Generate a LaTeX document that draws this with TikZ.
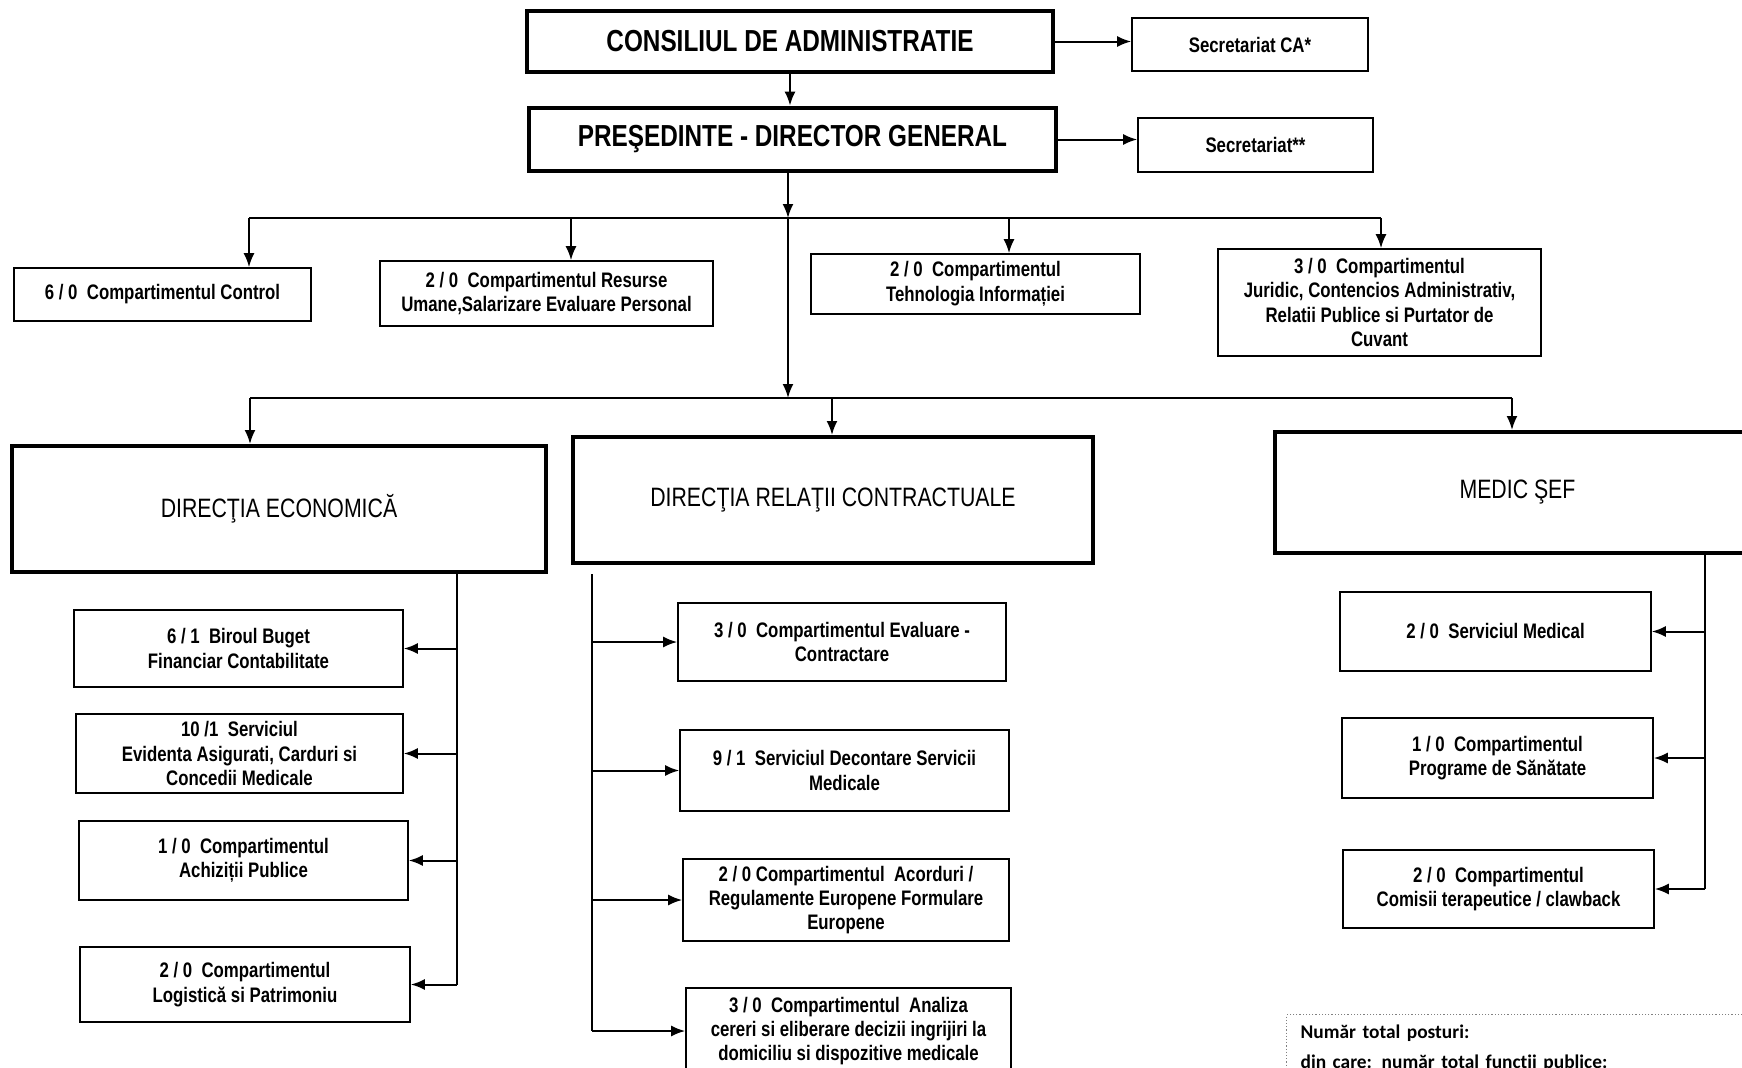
\documentclass[tikz,border=0pt]{standalone}
\usepackage{fontspec}
\setmainfont[FakeStretch=0.8]{Liberation Sans}
\newfontfamily\calfont{Carlito}
\usetikzlibrary{arrows.meta}
\begin{document}
\begin{tikzpicture}[x=0.5pt, y=-0.5pt,
    unit/.style={draw, line width=0.8pt, align=center, inner sep=2pt,
        font=\fontsize{10.5}{12.2}\selectfont\bfseries},
    topbox/.style={draw, line width=2.4pt, font=\fontsize{15.2}{18}\selectfont\bfseries},
    dirbox/.style={draw, line width=2pt, font=\fontsize{13.3}{16}\selectfont},
    totbox/.style={draw=gray, densely dotted, line width=0.6pt, align=left,
        inner xsep=7pt, inner ysep=5pt, text width=240pt,
        font=\calfont\fontsize{9.7}{15}\selectfont\bfseries},
    link/.style={line width=1pt, -{Latex[length=7pt, width=5.5pt]}},
    bar/.style={line width=1pt}]

\useasboundingbox (0,0) rectangle (1742,1067);
\clip (0,0) rectangle (1742,1067);

\node[topbox, minimum width=263pt, minimum height=30.5pt] (cons) at (790,41.5) {CONSILIUL DE ADMINISTRATIE};
\node[unit, minimum width=118pt, minimum height=26.5pt] (seca) at (1250,44.5) {Secretariat CA*};
\node[topbox, minimum width=263.5pt, minimum height=31.5pt] (pres) at (792.5,139.5) {PREŞEDINTE - DIRECTOR GENERAL};
\node[unit, minimum width=117.5pt, minimum height=27pt] (secp) at (1255.5,145) {Secretariat**};

\node[unit, minimum width=148.5pt, minimum height=26.5pt] (ctrl) at (162.5,294.5) {6 / 0~~Compartimentul Control};
\node[unit, minimum width=166.5pt, minimum height=32.5pt] (ru) at (546.5,293.5) {2 / 0~~Compartimentul Resurse\\Umane,Salarizare Evaluare Personal};
\node[unit, minimum width=164.5pt, minimum height=30pt] (ti) at (975.5,284) {2 / 0~~Compartimentul\\Tehnologia Informației};
\node[unit, minimum width=161.5pt, minimum height=53.5pt] (jur) at (1379.5,302.5) {3 / 0~~Compartimentul\\Juridic, Contencios Administrativ,\\Relatii Publice si Purtator de\\Cuvant};

\node[dirbox, minimum width=267pt, minimum height=63pt] (eco) at (279,509) {DIRECŢIA ECONOMICĂ};
\node[dirbox, minimum width=260pt, minimum height=63pt] (rel) at (833,500) {DIRECŢIA RELAŢII CONTRACTUALE};
\node[dirbox, minimum width=242.5pt, minimum height=60.5pt] (med) at (1517.5,492.5) {MEDIC ŞEF};

\node[unit, minimum width=164.5pt, minimum height=38.5pt] (bb) at (238.5,648.5) {6 / 1~~Biroul Buget\\Financiar Contabilitate};
\node[unit, minimum width=163.5pt, minimum height=39.5pt] (ev) at (239.5,753.5) {10 /1~~Serviciul\\Evidenta Asigurati, Carduri si\\Concedii Medicale};
\node[unit, minimum width=164.5pt, minimum height=39.5pt] (ach) at (243.5,860.5) {1 / 0~~Compartimentul\\Achiziții Publice};
\node[unit, minimum width=165pt, minimum height=37.5pt] (log) at (245,984.5) {2 / 0~~Compartimentul\\Logistică si Patrimoniu};

\node[unit, minimum width=164pt, minimum height=39pt] (eval) at (842,642) {3 / 0~~Compartimentul Evaluare -\\Contractare};
\node[unit, minimum width=164.5pt, minimum height=40.5pt] (dec) at (844.5,770.5) {9 / 1~~Serviciul Decontare Servicii\\Medicale};
\node[unit, minimum width=163pt, minimum height=41pt] (acord) at (846,900) {2 / 0 Compartimentul~~Acorduri /\\Regulamente Europene Formulare\\Europene};
\node[unit, minimum width=162.5pt, minimum height=43pt] (anal) at (848.5,1031) {3 / 0~~Compartimentul~~Analiza\\cereri si eliberare decizii ingrijiri la\\domiciliu si dispozitive medicale};

\node[unit, minimum width=155.5pt, minimum height=39.5pt] (sm) at (1495.5,631.5) {2 / 0~~Serviciul Medical};
\node[unit, minimum width=155.5pt, minimum height=40pt] (prog) at (1497.5,758) {1 / 0~~Compartimentul\\Programe de Sănătate};
\node[unit, minimum width=155.5pt, minimum height=39pt] (com) at (1498.5,889) {2 / 0~~Compartimentul\\Comisii terapeutice / clawback};

\node[totbox, anchor=north west] (tot) at (1286,1014) {Număr total posturi:\\din care: număr total funcţii publice:};

\draw[link] (cons.south) -- (cons.south |- pres.north);
\draw[link] (cons.east) -- (cons.east -| seca.west);
\draw[link] (pres.east) -- (pres.east -| secp.west);

\coordinate (b1) at (788,218);
\coordinate (b2) at (788,398);
\draw[link] (pres.south -| b1) -- (b1);
\draw[link] (b1) -- (b2);

\foreach \x/\n in {249/ctrl, 571/ru, 1009/ti, 1381/jur} {
    \coordinate (t-\n) at (\x,218);
    \draw[link] (t-\n) -- (t-\n |- \n.north);
}
\draw[bar] (t-ctrl) -- (t-jur);

\foreach \x/\n in {250/eco, 832/rel, 1512/med} {
    \coordinate (t-\n) at (\x,398);
    \draw[link] (t-\n) -- (t-\n |- \n.north);
}
\draw[bar] (t-eco) -- (t-med);

\coordinate (s-eco) at (457,572);
\coordinate (s-rel) at (592,574);
\coordinate (s-med) at (1705,553);
\draw[bar] (s-eco) -- (s-eco |- log);
\draw[bar] (s-rel) -- (s-rel |- anal);
\draw[bar] (s-med) -- (s-med |- com);
\foreach \n in {bb, ev, ach, log}
    \draw[link] (s-eco |- \n) -- (\n);
\foreach \n in {eval, dec, acord, anal}
    \draw[link] (s-rel |- \n) -- (\n);
\foreach \n in {sm, prog, com}
    \draw[link] (s-med |- \n) -- (\n);

\end{tikzpicture}
\end{document}
